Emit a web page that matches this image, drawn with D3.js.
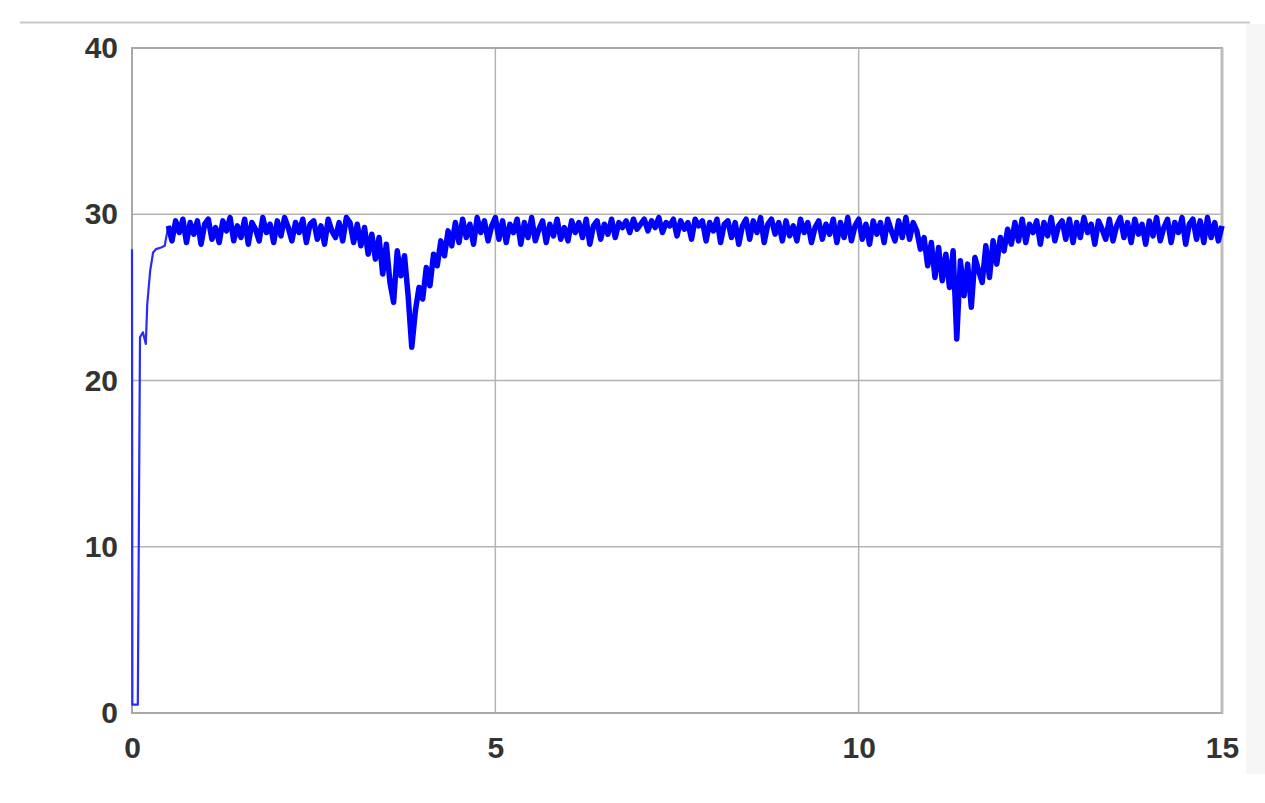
<!DOCTYPE html>
<meta charset='utf-8'>
<head>
<script src='https://d3js.org/d3.v7.min.js'></script>
<style>
  body{
    margin: 0;
    background: #fff;
  }
  #chart text{
    font-family: 'Liberation Sans', Arial, sans-serif;
    font-weight: bold;
    fill: #333;
  }
</style>
</head>
<body>
  <svg id="chart"></svg>
<script>

  // start-up transient (time, value)
  var startTimes  = [0, 0.005, 0.08, 0.11, 0.15, 0.19, 0.21, 0.25, 0.29, 0.33, 0.40, 0.45, 0.5];
  var startValues = [27.9, 0.5, 0.5, 22.6, 22.9, 22.2, 24.6, 26.6, 27.7, 27.9, 28.0, 28.1, 29.3];

  // steady part, sampled every 0.05 from t = 0.5 to t = 15
  var sampleStart = 0.5;
  var sampleStep = 0.05;
  var steadyValues = [
    29.3, 28.4, 29.6, 28.9, 29.7, 28.3, 29.5, 28.8, 29.6, 28.2,
    29.4, 29.7, 28.5, 29.2, 28.3, 29.6, 29.0, 29.8, 28.4, 29.3, 28.6, 29.7, 28.2, 29.5, 29.1, 28.4, 29.8, 28.9, 29.4, 28.3,
    29.6, 28.7, 29.8, 29.2, 28.4, 29.5, 28.9, 29.7, 28.3, 29.4, 29.6, 28.5, 29.3, 28.2, 29.7, 29.0, 28.6, 29.5, 28.4, 29.8,
    29.5, 28.3, 29.4, 28.1, 29.2, 27.6, 28.8, 27.3, 28.6, 26.4, 28.2, 25.9, 24.7, 27.8, 26.3, 27.5, 25.1, 22.0, 24.2, 25.6,
    24.9, 26.8, 25.7, 27.6, 26.9, 28.4, 27.5, 29.0, 28.1, 29.5, 28.3, 29.7, 28.6, 29.4, 28.2, 29.8, 28.9, 29.6, 28.4, 29.3,
    29.8, 28.5, 29.6, 28.3, 29.4, 28.9, 29.7, 28.2, 29.5, 28.6, 29.8, 28.4, 29.1, 29.6, 28.3, 29.4, 28.7, 29.7, 28.5, 29.2,
    28.4, 29.6, 28.9, 29.5, 28.6, 29.7, 28.2, 29.3, 29.6, 28.5, 29.4, 28.8, 29.7, 28.6, 29.5, 29.2, 29.6, 28.9, 29.7, 29.1,
    29.4, 29.7, 29.0, 29.6, 29.2, 29.8, 28.9, 29.5, 29.3, 29.7, 28.7, 29.6, 29.1, 29.5, 28.5, 29.7, 29.3, 29.6, 28.4, 29.5,
    29.0, 29.7, 28.3, 29.4, 29.6, 28.6, 29.5, 28.2, 29.3, 29.7, 28.5, 29.6, 28.9, 29.8, 28.3, 29.4, 29.7, 28.8, 29.5, 28.4,
    29.6, 28.7, 29.3, 28.4, 29.7, 28.9, 29.5, 28.3, 29.2, 29.6, 28.5, 29.4, 28.8, 29.7, 28.3, 29.5, 28.6, 29.8, 28.4, 29.3,
    29.7, 28.5, 29.4, 28.2, 29.6, 28.8, 29.5, 28.3, 29.7, 29.0, 28.4, 29.6, 28.6, 29.8, 28.5, 29.5, 29.0, 27.9, 28.6, 26.9,
    28.3, 26.2, 28.0, 26.0, 27.6, 25.6, 27.8, 22.5, 27.2, 25.1, 27.0, 24.4, 27.4, 26.6, 25.9, 28.1, 26.2, 28.4, 27.0, 28.6,
    27.8, 29.1, 28.2, 29.5, 28.4, 29.7, 28.3, 29.4, 28.9, 29.6, 28.2, 29.5, 28.7, 29.8, 28.4, 29.3, 29.6, 28.5, 29.7, 28.3,
    29.5, 28.6, 29.8, 28.9, 29.4, 28.2, 29.6, 29.1, 28.5, 29.7, 28.4, 29.3, 29.8, 28.6, 29.5, 28.3, 29.7, 28.8, 29.4, 28.2,
    29.6, 28.7, 29.8, 28.4, 29.2, 29.7, 28.3, 29.5, 28.9, 29.8, 28.2, 29.4, 29.7, 28.5, 29.6, 28.3, 29.8, 28.6, 29.5, 28.4,
    29.3
  ];

  var xTicks = [0, 5, 10, 15];
  var yTicks = [0, 10, 20, 30, 40];

  var width = 1265,
      height = 803,
      margin = {top: 48, right: 43, bottom: 90, left: 132};

  var svg = d3.select('#chart')
      .attr('width', width)
      .attr('height', height);

  var x = d3.scaleLinear()
      .domain([0, 15])
      .range([margin.left, width - margin.right]);

  var y = d3.scaleLinear()
      .domain([0, 40])
      .range([height - margin.bottom, margin.top]);

  var startup = startTimes.map(function(t, i) { return {t: t, v: startValues[i]}; });
  var steady = steadyValues.map(function(v, i) {
    return {t: sampleStart + i * sampleStep, v: v};
  });

  // screenshot artifacts: top rule and grey strip at right
  svg.append('line')
    .attr('x1', 20).attr('x2', 1250)
    .attr('y1', 22.5).attr('y2', 22.5)
    .attr('stroke', '#c8c8c8')
    .attr('stroke-width', 2);

  svg.append('rect')
    .attr('x', 1246).attr('y', 24)
    .attr('width', 19).attr('height', 750)
    .attr('fill', '#f6f6f6');

  // grid
  var grid = svg.append('g');

  grid.selectAll('.hgrid')
    .data(yTicks.slice(1, -1))
    .enter().append('line')
    .attr('class', 'hgrid')
    .attr('x1', x(0)).attr('x2', x(15))
    .attr('y1', function(d) { return y(d); })
    .attr('y2', function(d) { return y(d); })
    .attr('stroke', '#b4b4b4')
    .attr('stroke-width', 1.5);

  grid.selectAll('.vgrid')
    .data(xTicks.slice(1, -1))
    .enter().append('line')
    .attr('class', 'vgrid')
    .attr('y1', y(0)).attr('y2', y(40))
    .attr('x1', function(d) { return x(d); })
    .attr('x2', function(d) { return x(d); })
    .attr('stroke', '#b4b4b4')
    .attr('stroke-width', 1.5);

  // frame
  svg.append('rect')
    .attr('x', x(0)).attr('y', y(40))
    .attr('width', x(15) - x(0))
    .attr('height', y(0) - y(40))
    .attr('fill', 'none')
    .attr('stroke', '#a8a8a8')
    .attr('stroke-width', 2);

  svg.append('line')
    .attr('x1', x(15)).attr('x2', x(15))
    .attr('y1', y(40)).attr('y2', y(0))
    .attr('stroke', '#bdbdbd')
    .attr('stroke-width', 3);

  // data line
  var line = d3.line()
    .x(function(d) { return x(d.t); })
    .y(function(d) { return y(d.v); });

  svg.append('path')
    .datum(startup)
    .attr('d', line)
    .attr('fill', 'none')
    .attr('stroke', '#2a2aff')
    .attr('stroke-width', 2.2)
    .attr('stroke-linejoin', 'round');

  svg.append('path')
    .datum(steady)
    .attr('d', line)
    .attr('fill', 'none')
    .attr('stroke', '#0000ff')
    .attr('stroke-width', 5.5)
    .attr('stroke-linejoin', 'round');

  // axes
  var xAxis = svg.append('g')
    .attr('transform', 'translate(0,' + y(0) + ')')
    .call(d3.axisBottom(x).tickValues(xTicks).tickSize(0).tickPadding(24));

  var yAxis = svg.append('g')
    .attr('transform', 'translate(' + x(0) + ',0)')
    .call(d3.axisLeft(y).tickValues(yTicks).tickSize(0).tickPadding(14));

  [xAxis, yAxis].forEach(function(a) {
    a.select('.domain').remove();
    a.selectAll('text')
      .attr('fill', '#333')
      .style('font-size', '30px');
  });

</script>
</body>
</html>
